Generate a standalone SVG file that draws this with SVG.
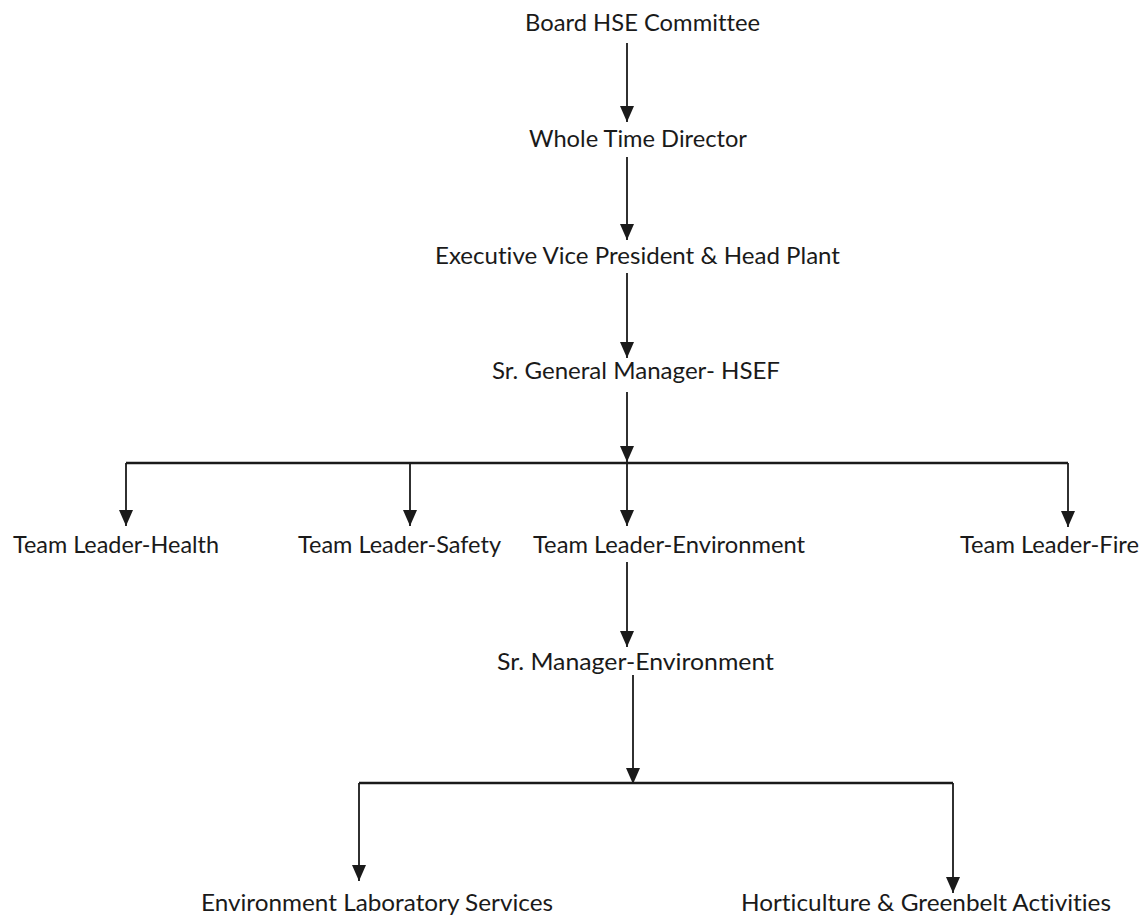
<svg xmlns="http://www.w3.org/2000/svg" width="1146" height="916" viewBox="0 0 1146 916">
  <style>
    .lbl { font-family: Lato, "Open Sans", "Liberation Sans", sans-serif; font-size: 24px; fill: #1a1a1a; font-variant-ligatures: none; }
    .ln { stroke: #1a1a1a; stroke-width: 1.8; fill: none; }
    .bus { stroke: #1a1a1a; stroke-width: 2.4; fill: none; }
  </style>
  <defs>
    <marker id="ah" markerUnits="userSpaceOnUse" markerWidth="17" markerHeight="15" refX="16" refY="7" orient="auto">
      <path d="M0,0 L16,7 L0,14 z" fill="#1a1a1a"/>
    </marker>
  </defs>
  <rect width="1146" height="916" fill="#ffffff"/>

  <g id="connectors">
    <path class="ln" d="M627,43 V122" marker-end="url(#ah)"/>
    <path class="ln" d="M627,157 V240" marker-end="url(#ah)"/>
    <path class="ln" d="M627,273 V358" marker-end="url(#ah)"/>
    <path class="ln" d="M627,392 V462" marker-end="url(#ah)"/>
    <path class="bus" d="M126,463 H1068"/>
    <path class="ln" d="M126,463 V526" marker-end="url(#ah)"/>
    <path class="ln" d="M410,463 V526" marker-end="url(#ah)"/>
    <path class="ln" d="M627,463 V526" marker-end="url(#ah)"/>
    <path class="ln" d="M1068,463 V527" marker-end="url(#ah)"/>
    <path class="ln" d="M627,562 V647" marker-end="url(#ah)"/>
    <path class="ln" d="M633,675 V784" marker-end="url(#ah)"/>
    <path class="bus" d="M359,783 H953"/>
    <path class="ln" d="M359,783 V881" marker-end="url(#ah)"/>
    <path class="ln" d="M953,783 V893" marker-end="url(#ah)"/>
  </g>

  <g id="node-board">
    <text class="lbl" x="525" y="31" textLength="235" lengthAdjust="spacingAndGlyphs">Board HSE Committee</text>
  </g>
  <g id="node-wtd">
    <text class="lbl" x="529" y="147" textLength="218" lengthAdjust="spacingAndGlyphs">Whole Time Director</text>
  </g>
  <g id="node-evp">
    <text class="lbl" x="435" y="264" textLength="405" lengthAdjust="spacingAndGlyphs">Executive Vice President &amp; Head Plant</text>
  </g>
  <g id="node-sgm">
    <text class="lbl" x="492" y="379" textLength="288" lengthAdjust="spacingAndGlyphs">Sr. General Manager- HSEF</text>
  </g>
  <g id="node-tl-health">
    <text class="lbl" x="13" y="553" textLength="206" lengthAdjust="spacingAndGlyphs">Team Leader-Health</text>
  </g>
  <g id="node-tl-safety">
    <text class="lbl" x="298" y="553" textLength="203" lengthAdjust="spacingAndGlyphs">Team Leader-Safety</text>
  </g>
  <g id="node-tl-env">
    <text class="lbl" x="533" y="553" textLength="272" lengthAdjust="spacingAndGlyphs">Team Leader-Environment</text>
  </g>
  <g id="node-tl-fire">
    <text class="lbl" x="960" y="553" textLength="179" lengthAdjust="spacingAndGlyphs">Team Leader-Fire</text>
  </g>
  <g id="node-sm-env">
    <text class="lbl" x="497" y="670" textLength="277" lengthAdjust="spacingAndGlyphs">Sr. Manager-Environment</text>
  </g>
  <g id="node-lab">
    <text class="lbl" x="201" y="911" textLength="352" lengthAdjust="spacingAndGlyphs">Environment Laboratory Services</text>
  </g>
  <g id="node-hort">
    <text class="lbl" x="741" y="911" textLength="370" lengthAdjust="spacingAndGlyphs">Horticulture &amp; Greenbelt Activities</text>
  </g>
</svg>
